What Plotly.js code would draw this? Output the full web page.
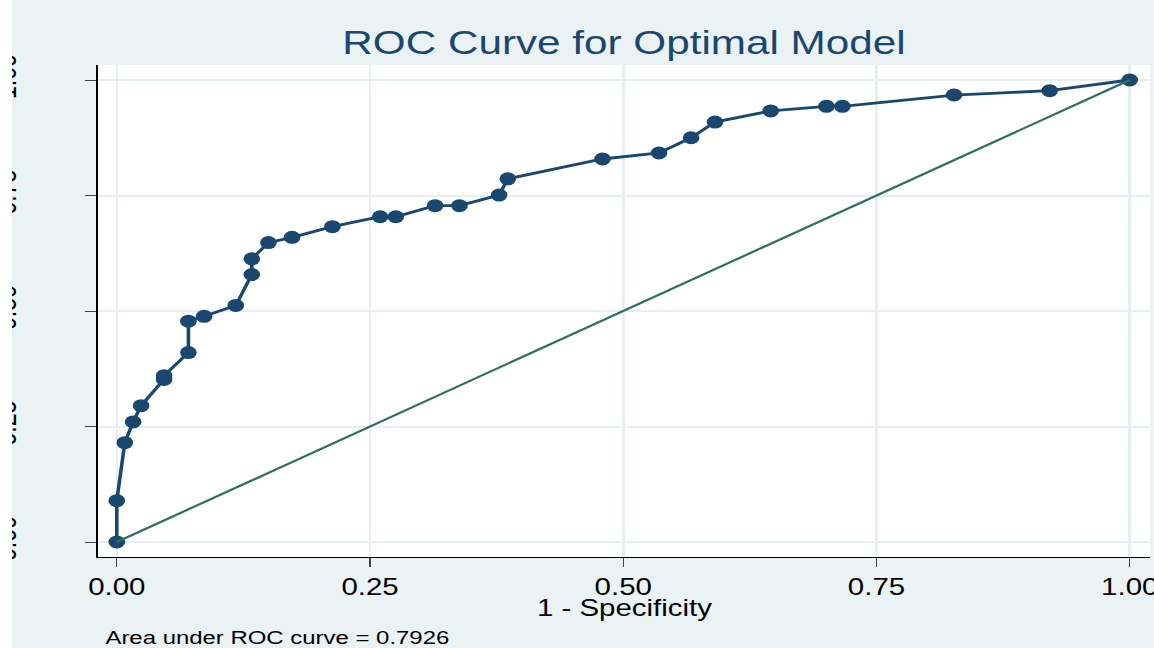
<!DOCTYPE html>
<html><head><meta charset="utf-8">
<script src="https://cdn.plot.ly/plotly-3.0.1.min.js"></script>
<style>
html,body{margin:0;padding:0;background:#ffffff;width:1154px;height:648px;overflow:hidden;}
#chart{position:absolute;left:12px;top:0;width:892px;height:648px;transform:scaleX(1.2803);transform-origin:0 0;}
</style></head>
<body><div id="chart"></div>
<script>
// ROC curve points (1 - Specificity, Sensitivity)
const fpr = [0, 0, 0.0079, 0.0161, 0.0240, 0.0467, 0.0467, 0.0707, 0.0707, 0.0862, 0.1175,
             0.1333, 0.1333, 0.1497, 0.1730, 0.2129, 0.2600, 0.2754, 0.3142, 0.3383, 0.3774,
             0.3860, 0.4795, 0.5353, 0.5670, 0.5906, 0.6456, 0.7006, 0.7164, 0.8266, 0.9210, 1];
const tpr = [0, 0.0894, 0.2150, 0.2600, 0.2950, 0.3520, 0.3600, 0.4100, 0.4780, 0.4885, 0.5120,
             0.5790, 0.6130, 0.6480, 0.6595, 0.6825, 0.7040, 0.7040, 0.7280, 0.7280, 0.7510,
             0.7860, 0.8290, 0.8420, 0.8750, 0.9090, 0.9330, 0.9430, 0.9430, 0.9675, 0.9768, 1];
// reference (chance) line
const refX = [0, 1];
const refY = [0, 1];
const tickVals = [0, 0.25, 0.5, 0.75, 1];
const tickText = ['0.00', '0.25', '0.50', '0.75', '1.00'];
const titleText = 'ROC Curve for Optimal Model';
const xTitleText = '1 - Specificity';
const noteText = 'Area under ROC curve = 0.7926';

const FONT = 'Liberation Sans, Arial, Helvetica, sans-serif';
const BG = '#eaf2f3';

const traces = [
  {x: fpr, y: tpr, type: 'scatter', mode: 'lines+markers',
   line: {color: '#1a476f', width: 2.8},
   marker: {color: '#1a476f', size: 13}, hoverinfo: 'x+y', showlegend: false},
  {x: refX, y: refY, type: 'scatter', mode: 'lines',
   line: {color: '#2e6f62', width: 2.1}, hoverinfo: 'skip', showlegend: false}
];

const layout = {
  width: 892, height: 648,
  paper_bgcolor: BG, plot_bgcolor: '#ffffff',
  margin: {l: 67.2, r: 2.9, t: 65, b: 91, pad: 0},
  font: {family: FONT, color: '#000000'},
  showlegend: false,
  title: {text: titleText, font: {family: FONT, size: 33, color: '#1a476f'},
          xref: 'paper', x: 0.5, xanchor: 'center', yref: 'container', y: 1 - 42/648, yanchor: 'middle'},
  xaxis: {
    range: [-0.01877, 1.0202], tickmode: 'array', tickvals: tickVals, ticktext: tickText,
    showgrid: true, gridcolor: '#e6eff1', gridwidth: 2, zeroline: false,
    showline: true, linecolor: '#000000', linewidth: 1.3,
    ticks: 'outside', ticklen: 9, tickwidth: 1, tickcolor: '#444444',
    ticklabeloverflow: 'allow',
    tickfont: {family: FONT, size: 23, color: '#000000'},
    automargin: false, fixedrange: true
  },
  yaxis: {
    range: [-0.03247, 1.03247], tickmode: 'array', tickvals: tickVals, ticktext: tickText,
    showgrid: true, gridcolor: '#e6eff1', gridwidth: 2, zeroline: false,
    showline: true, linecolor: '#000000', linewidth: 1.3,
    ticks: 'outside', ticklen: 9, tickwidth: 1, tickcolor: '#444444',
    tickangle: -90, ticklabelstandoff: 44, ticklabeloverflow: 'allow',
    tickfont: {family: FONT, size: 23, color: '#000000'},
    automargin: false, fixedrange: true
  },
  annotations: [
    {text: xTitleText, xref: 'paper', yref: 'paper', x: 0.5, y: -0.1036,
     xanchor: 'center', yanchor: 'middle', showarrow: false,
     font: {family: FONT, size: 23, color: '#000000'}},
    {text: noteText, xref: 'paper', yref: 'paper', x: 0.0045, y: -0.1646,
     xanchor: 'left', yanchor: 'middle', showarrow: false,
     font: {family: FONT, size: 18.7, color: '#000000'}}
  ]
};

Plotly.newPlot('chart', traces, layout, {displayModeBar: false, staticPlot: true});
</script>
</body></html>
